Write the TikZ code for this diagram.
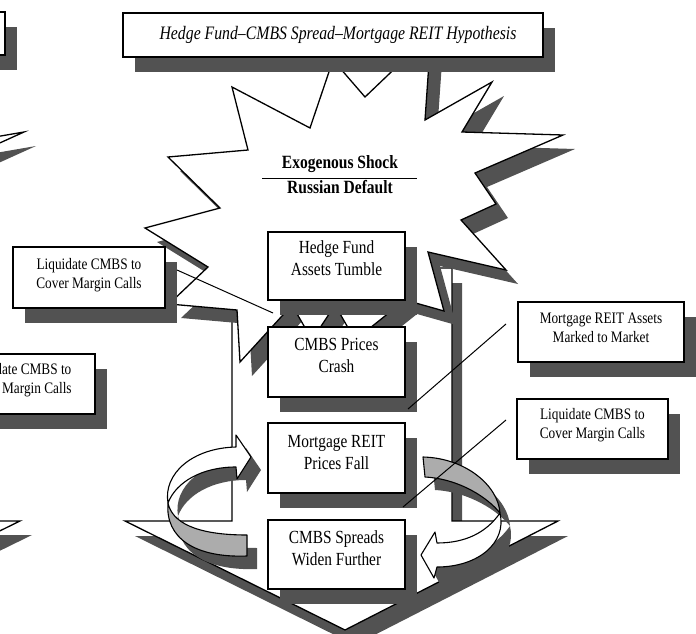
\documentclass[tikz,border=0pt]{standalone}
\usepackage{fontspec}
\setmainfont{Liberation Serif}[FakeStretch=0.83]
\usetikzlibrary{shadows}
\definecolor{shgray}{RGB}{82,82,82}
\definecolor{bandgray}{RGB}{172,172,172}
\begin{document}
\begin{tikzpicture}[x=1pt,y=-1pt,
  outl/.style={draw=black,line width=1.3pt,line join=miter,miter limit=20},
  boxn/.style={rectangle,draw=black,line width=1.2pt,fill=white,inner sep=0pt,
     general shadow={fill=shgray,shadow xshift=12pt,shadow yshift=-15pt}},
  bigt/.style={font=\fontsize{18.5}{22}\selectfont,align=center,inner sep=0pt},
  smallt/.style={font=\fontsize{16}{19}\selectfont,align=center,inner sep=0pt},
  conn/.style={draw=black,line width=1pt},
  rib/.style={draw=black,line width=1.1pt,line join=round}]
\useasboundingbox (0,0) rectangle (696,634);
\clip (0,0) rectangle (696,634);

% ---- partial elements of the neighbouring diagram at the left edge
\node[boxn,minimum width=155pt,minimum height=43pt] (prevbox) at (-72.5,33.5) {};
\fill[shgray,shift={(12,14)}] (-40,143) -- (24,132) -- (-40,161) -- cycle;
\draw[outl,fill=white] (-40,143) -- (24,132) -- (-40,161) -- cycle;
\fill[shgray,shift={(12,14)}] (-80,521) -- (20,521) -- (-200,629) -- cycle;
\draw[outl,fill=white] (-80,521) -- (20,521) -- (-200,629) -- cycle;
\node[boxn,minimum width=152pt,minimum height=60pt] (prevliq) at (19,384) {};
\node[smallt] (prevliqt) at (19,380.2) {\strut Liquidate CMBS to\\\strut Cover Margin Calls};

% ---- big down arrow
\fill[shgray,shift={(10,15)}] (232,268) -- (452,268) -- (452,521) -- (558,521) -- (345,630) -- (125,521) -- (232,521) -- cycle;
\draw[outl,fill=white] (232,268) -- (452,268) -- (452,521) -- (558,521) -- (345,630) -- (125,521) -- (232,521) -- cycle;

% ---- explosion star
\fill[shgray,shift={(12,14)}] (232,87) -- (310,128) -- (333,60) -- (365,97) -- (431,34) -- (425,120) -- (492,82) -- (462,132) -- (563,135) -- (475,173) -- (496,204) -- (461,220) -- (506,270) -- (428,252) -- (444,311) -- (405,300) -- (355,340) -- (335,305) -- (312,340) -- (292,305) -- (240,362) -- (237,310) -- (169,304) -- (208,267) -- (145,228) -- (220,208) -- (168,157) -- (248,150) -- cycle;
\draw[outl,fill=white] (232,87) -- (310,128) -- (333,60) -- (365,97) -- (431,34) -- (425,120) -- (492,82) -- (462,132) -- (563,135) -- (475,173) -- (496,204) -- (461,220) -- (506,270) -- (428,252) -- (444,311) -- (405,300) -- (355,340) -- (335,305) -- (312,340) -- (292,305) -- (240,362) -- (237,310) -- (169,304) -- (208,267) -- (145,228) -- (220,208) -- (168,157) -- (248,150) -- cycle;

% ---- left curved arrow
\begin{scope}[shift={(10,13)}]
\fill[shgray] (168,503) .. controls (163,474) and (192,448) .. (236,447) -- (236,435) -- (251,457) -- (237,479) -- (236,467) .. controls (202,467) and (176,482) .. (168,503) -- cycle;
\fill[shgray] (168,503) .. controls (172,522) and (195,535) .. (247,535) -- (247,556) .. controls (195,558) and (165,538) .. (168,503) -- cycle;
\end{scope}
\draw[rib,fill=white] (168,503) .. controls (163,474) and (192,448) .. (236,447) -- (236,435) -- (251,457) -- (237,479) -- (236,467) .. controls (202,467) and (176,482) .. (168,503) -- cycle;
\draw[rib,fill=bandgray] (168,503) .. controls (172,522) and (195,535) .. (247,535) -- (247,556) .. controls (195,558) and (165,538) .. (168,503) -- cycle;

% ---- right curved arrow
\begin{scope}[shift={(10,13)}]
\fill[shgray] (423,457) .. controls (465,458) and (498,485) .. (500,513) .. controls (488,498) and (460,479) .. (425,477) -- cycle;
\fill[shgray] (500,513) .. controls (486,533) and (465,543) .. (437,543) -- (435,532) -- (421,555) -- (434,578) -- (437,567) .. controls (478,567) and (507,543) .. (500,513) -- cycle;
\end{scope}
\draw[rib,fill=bandgray] (423,457) .. controls (465,458) and (498,485) .. (500,513) .. controls (488,498) and (460,479) .. (425,477) -- cycle;
\draw[rib,fill=white] (500,513) .. controls (486,533) and (465,543) .. (437,543) -- (435,532) -- (421,555) -- (434,578) -- (437,567) .. controls (478,567) and (507,543) .. (500,513) -- cycle;

% ---- boxes
\node[boxn,minimum width=420pt,minimum height=44pt] (title) at (333,35) {};
\node[boxn,minimum width=137pt,minimum height=68pt] (hf) at (336.5,266) {};
\node[boxn,minimum width=137pt,minimum height=70pt] (cmbsp) at (336.5,362) {};
\node[boxn,minimum width=137pt,minimum height=70pt] (mreit) at (336.5,458) {};
\node[boxn,minimum width=137pt,minimum height=69pt] (spread) at (336.5,554.5) {};
\node[boxn,minimum width=152pt,minimum height=61pt] (liqL) at (89,277.5) {};
\node[boxn,minimum width=166pt,minimum height=60pt] (mra) at (601,332) {};
\node[boxn,minimum width=151pt,minimum height=60pt] (liqR) at (592.5,429) {};

% ---- connectors
\coordinate (c1a) at (177,270); \coordinate (c1b) at (273,313);
\coordinate (c2a) at (506,324); \coordinate (c2b) at (408,409);
\coordinate (c3a) at (506,420); \coordinate (c3b) at (403,507);
\draw[conn] (c1a) -- (c1b);
\draw[conn] (c2a) -- (c2b);
\draw[conn] (c3a) -- (c3b);

% ---- texts
\node[font=\fontsize{19}{21}\selectfont\itshape,anchor=base,inner sep=0pt] (titlet) at (338,40) {Hedge Fund–CMBS Spread–Mortgage REIT Hypothesis};
\node[font=\fontsize{18.7}{22}\selectfont\bfseries,anchor=base,inner sep=0pt] (exo) at (340,168) {Exogenous Shock};
\node[font=\fontsize{18.7}{22}\selectfont\bfseries,anchor=base,inner sep=0pt] (rus) at (340,193) {Russian Default};
\coordinate (rl) at (262,178); \coordinate (rr) at (417,178);
\draw[line width=0.9pt] (rl) -- (rr);
\node[bigt] (hft) at (336.5,259.6) {\strut Hedge Fund\\\strut Assets Tumble};
\node[bigt] (cmbspt) at (336.5,356.6) {\strut CMBS Prices\\\strut Crash};
\node[bigt] (mreitt) at (336.5,453.6) {\strut Mortgage REIT\\\strut Prices Fall};
\node[bigt] (spreadt) at (336.5,550.1) {\strut CMBS Spreads\\\strut Widen Further};
\node[smallt] (liqLt) at (89,275.2) {\strut Liquidate CMBS to\\\strut Cover Margin Calls};
\node[smallt] (mrat) at (601,328.7) {\strut Mortgage REIT Assets\\\strut Marked to Market};
\node[smallt] (liqRt) at (592.5,425.2) {\strut Liquidate CMBS to\\\strut Cover Margin Calls};
\end{tikzpicture}
\end{document}
